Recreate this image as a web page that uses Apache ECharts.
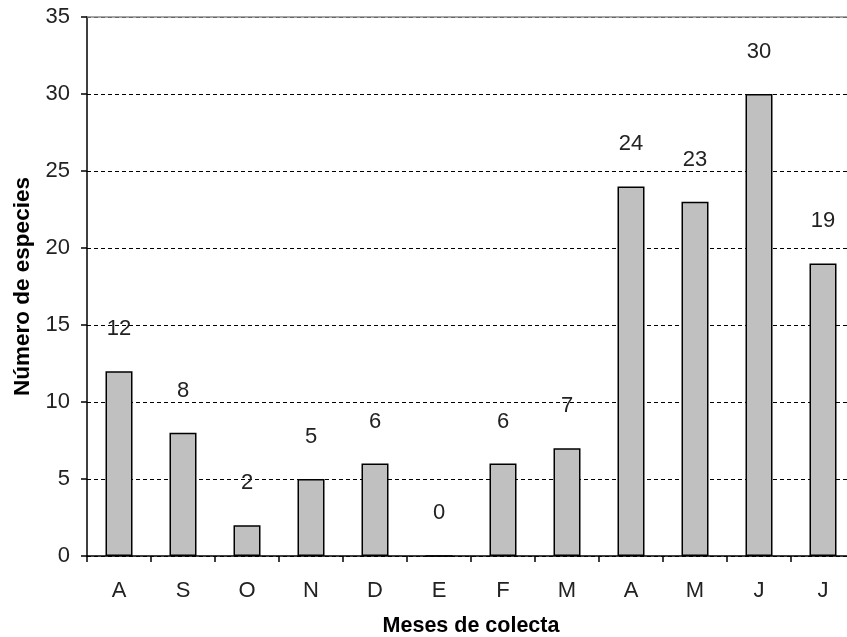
<!DOCTYPE html>
<html>
<head>
<meta charset="utf-8">
<script src="https://cdn.jsdelivr.net/npm/echarts@6/dist/echarts.min.js"></script>
<style>html,body{margin:0;padding:0;background:#fff}#c{width:847px;height:637px}</style>
</head>
<body>
<div id="c"></div>
<script>
var categories = ['A','S','O','N','D','E','F','M','A','M','J','J'];
var values = [12, 8, 2, 5, 6, 0, 6, 7, 24, 23, 30, 19];
var yTicks = [0, 5, 10, 15, 20, 25, 30, 35];

var chart = echarts.init(document.getElementById('c'), null, {renderer: 'canvas'});
var font = 'Liberation Sans, Arial, sans-serif';
chart.setOption({
  animation: false,
  backgroundColor: '#fff',
  grid: {left: 87, top: 17, bottom: 81, right: -8, containLabel: false, outerBoundsMode: 'none'},
  xAxis: {
    type: 'category',
    data: categories,
    name: 'Meses de colecta',
    nameLocation: 'middle',
    nameGap: 59,
    nameTextStyle: {fontFamily: font, fontSize: 21.5, fontWeight: 'bold', color: '#000'},
    axisLine: {lineStyle: {color: '#000', width: 1.5}},
    axisTick: {show: true, inside: false, length: 6, alignWithLabel: false, lineStyle: {color: '#000', width: 1.5}},
    axisLabel: {fontFamily: font, fontSize: 22, color: '#222', margin: 24},
    splitLine: {show: false}
  },
  yAxis: {
    type: 'value',
    min: yTicks[0],
    max: yTicks[yTicks.length - 1],
    interval: 5,
    name: 'Número de especies',
    nameLocation: 'middle',
    nameGap: 53,
    nameTextStyle: {fontFamily: font, fontSize: 22.5, fontWeight: 'bold', color: '#000'},
    axisLine: {show: true, lineStyle: {color: '#000', width: 1.5}},
    axisTick: {show: true, length: 6, lineStyle: {color: '#000', width: 1.5}},
    axisLabel: {fontFamily: font, fontSize: 22, color: '#222', margin: 17},
    splitLine: {show: true, lineStyle: {color: '#000', type: [4, 3], width: 1}}
  },
  series: [{
    type: 'bar',
    data: values,
    barWidth: 27,
    itemStyle: {color: '#c0c0c0', borderColor: '#000', borderWidth: 1.5},
    label: {show: true, position: 'top', distance: 31, fontFamily: font, fontSize: 22, color: '#222'},
    markLine: {
      silent: true,
      symbol: 'none',
      label: {show: false},
      lineStyle: {color: '#8a8a8a', type: 'solid', width: 1.5},
      data: [{yAxis: yTicks[yTicks.length - 1]}]
    }
  }]
});
</script>
</body>
</html>
